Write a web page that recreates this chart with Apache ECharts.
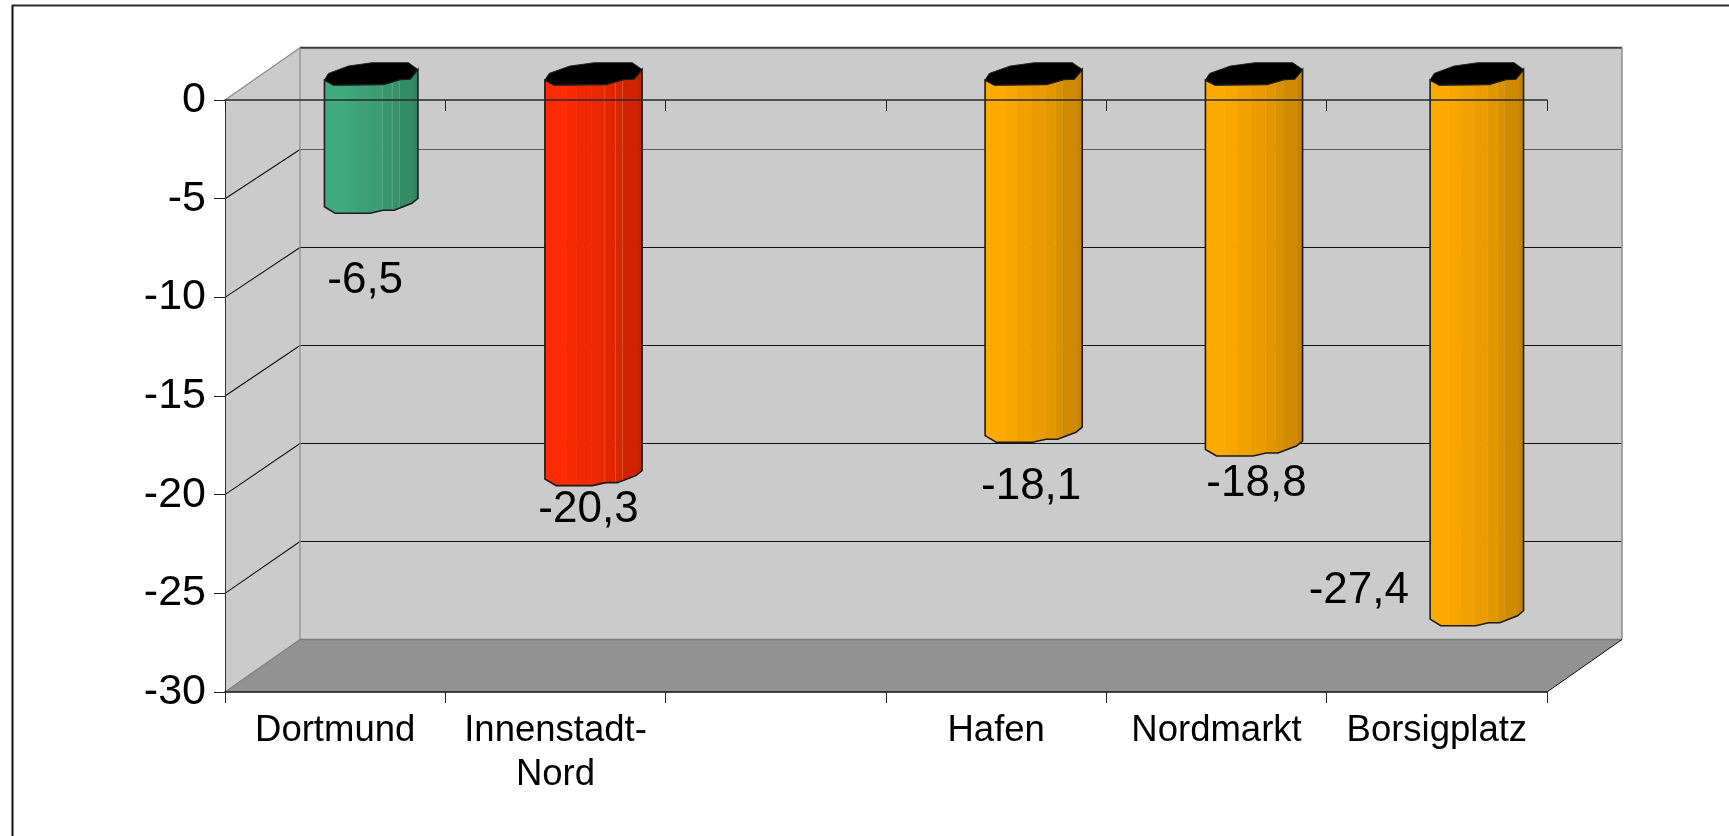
<!DOCTYPE html>
<html><head><meta charset="utf-8">
<style>html,body{margin:0;padding:0;background:#fff}#c{width:1729px;height:836px}</style>
<script src="https://cdn.jsdelivr.net/npm/echarts@6/dist/echarts.min.js"></script>
</head><body><div id="c"></div>
<script>
const categories = ['Dortmund', 'Innenstadt-\nNord', '', 'Hafen', 'Nordmarkt', 'Borsigplatz'];
const values = [-6.5, -20.3, null, -18.1, -18.8, -27.4];
const valueLabels = ['-6,5', '-20,3', '', '-18,1', '-18,8', '-27,4'];
const yTicks = [0, -5, -10, -15, -20, -25, -30];

// --- styling only ---
const barBase = ['#40ab7f', '#ff2b00', null, '#ffaa00', '#ffaa00', '#ffaa00'];
const labelOffset = [[30, 53], [33, 9.5], [0, 0], [35, 29.5], [40, 12.5], [-78, -50]];
const barNudge = [-1.5, 0.5, 0, 0, 0, 2.5];
const barScale = [1, 1.04, 1, 1.04, 1.04, 1];
const DEPTH = 75, DEPTH_Y = -52.5;
const FONT = '"Liberation Sans", Arial, sans-serif';
const stripEdges = [-46.7, -27, -16, -2, 11, 21, 28, 42, 46.7];
const stripShade = [1, 0.975, 0.95, 0.92, 0.885, 0.85, 0.81, 0.77];
const lightEdges = [11, 21, 28];
const capShape = [[-46.7, 6.3], [-42.7, -0.3], [-22.7, -7.7], [0.7, -11], [37.3, -11], [46.7, -4.3], [39, 5.3], [29, 5.7], [12.3, 10.7], [-37.7, 11.3]];
const topFront = [[-46.7, 6.3], [-37.7, 11.3], [12.3, 10.7], [29, 5.7], [39, 5.3], [46.7, -4.3]];
const bottomFront = [[-46.7, 4.7], [-36, 11.3], [-1, 11.3], [11.7, 8.3], [23, 8.3], [40.7, 1.3], [46.7, -3.7]];

function shade(hex, f) {
  const n = parseInt(hex.slice(1), 16);
  const c = [(n >> 16) & 255, (n >> 8) & 255, n & 255].map(v => Math.round(v * f));
  return 'rgb(' + c.join(',') + ')';
}
function profileAt(p, x) {
  for (let i = 0; i < p.length - 1; i++) {
    if (x <= p[i + 1][0]) {
      const t = (x - p[i][0]) / (p[i + 1][0] - p[i][0]);
      return p[i][1] + t * (p[i + 1][1] - p[i][1]);
    }
  }
  return p[p.length - 1][1];
}
function backShift(v) { return -49.2 + v * 0.1067; }

function renderWalls(params, api) {
  const cs = params.coordSys;
  const L = cs.x, R = cs.x + cs.width, T = cs.y, B = cs.y + cs.height;
  const bT = 47.7 - T, bB = DEPTH_Y;
  const kids = [];
  const poly = (pts, fill, stroke, lw) => ({ type: 'polygon', shape: { points: pts },
    style: { fill: fill, stroke: stroke || null, lineWidth: lw || 0 } });
  const line = (x1, y1, x2, y2, c, lw) => ({ type: 'line', shape: { x1, y1, x2, y2 },
    style: { stroke: c, lineWidth: lw || 1 } });
  kids.push(poly([[L + DEPTH, T + bT], [R + DEPTH, T + bT], [R + DEPTH, B + bB], [L + DEPTH, B + bB]], '#cbcbcb'));
  kids.push(poly([[L, T], [L + DEPTH, T + bT], [L + DEPTH, B + bB], [L, B]], '#cbcbcb'));
  kids.push(poly([[L, B], [L + DEPTH, B + bB], [R + DEPTH, B + bB], [R, B]], '#929292'));
  yTicks.slice(1, -1).forEach(v => {
    const y = api.coord([0, v])[1], yb = Math.round(y + backShift(v)) + 0.5;
    const c = v === -5 ? '#5a5a5a' : '#111';
    kids.push(line(L + DEPTH, yb, R + DEPTH, yb, c, 1.2));
    kids.push(line(L, y, L + DEPTH, yb, '#111', 1.1));
  });
  kids.push(line(L + DEPTH, T + bT, R + DEPTH, T + bT, '#3c3c3c', 2));
  kids.push(line(L, T, L + DEPTH, T + bT, '#8a8a8a', 1.2));
  kids.push(line(L + DEPTH, T + bT, L + DEPTH, B + bB, '#8a8a8a', 1.2));
  kids.push(line(R + DEPTH, T + bT, R + DEPTH, B + bB, '#8e8e8e', 1.5));
  kids.push(line(L, B, L + DEPTH, B + bB, '#808080', 1.2));
  kids.push(line(L + DEPTH, B + bB, R + DEPTH, B + bB, '#7a7a7a', 1.5));
  kids.push(line(R, B, R + DEPTH, B + bB, '#111', 1));
  return { type: 'group', children: kids };
}

function renderBar(params, api) {
  const i = api.value(0), v = api.value(1);
  const zero = api.coord([i, 0]), end = api.coord([i, v]);
  const ms = barScale[i];
  const cx = zero[0] + DEPTH / 2 + barNudge[i];
  const y0 = zero[1] + DEPTH_Y / 2, y1 = end[1] + DEPTH_Y / 2;
  const kids = [];
  const breaks = topFront.concat(bottomFront).map(p => p[0]);
  stripEdges.slice(0, -1).forEach((a, k) => {
    const b = stripEdges[k + 1];
    const xs = [a, b].concat(breaks.filter(x => x > a && x < b)).sort((p, q) => p - q);
    const pts = xs.map(x => [cx + x * ms, y0 + profileAt(topFront, x)])
      .concat(xs.slice().reverse().map(x => [cx + x * ms, y1 + profileAt(bottomFront, x)]));
    const fill = shade(barBase[i], stripShade[k]);
    kids.push({ type: 'polygon', shape: { points: pts }, style: { fill: fill, stroke: fill, lineWidth: 0.5 } });
  });
  const lightAlpha = i === 0 || i === 1 ? 0.18 : 0.08;
  lightEdges.forEach(x => {
    kids.push({ type: 'line', shape: { x1: cx + x * ms, y1: y0 + profileAt(topFront, x), x2: cx + x * ms, y2: y1 + profileAt(bottomFront, x) },
      style: { stroke: 'rgba(255,255,255,' + lightAlpha + ')', lineWidth: 1 } });
  });
  const outline = topFront.map(p => [cx + p[0] * ms, y0 + p[1]]).concat(
    bottomFront.slice().reverse().map(p => [cx + p[0] * ms, y1 + p[1]]));
  kids.push({ type: 'polygon', shape: { points: outline }, style: { fill: 'none', stroke: '#1c1c1c', lineWidth: 1.6 } });
  kids.push({ type: 'polygon', shape: { points: capShape.map(p => [cx + p[0] * ms, y0 + p[1]]) },
    style: { fill: '#000', stroke: '#222', lineWidth: 1 } });
  kids.push({ type: 'text', style: { x: zero[0] + labelOffset[i][0], y: end[1] + labelOffset[i][1],
    text: valueLabels[i], fill: '#000', font: '44px ' + FONT, align: 'center', verticalAlign: 'middle' } });
  return { type: 'group', children: kids };
}

const barData = values.map((v, i) => [i, v]).filter(d => d[1] !== null);

const chart = echarts.init(document.getElementById('c'), null, { renderer: 'canvas' });
chart.setOption({
  animation: false,
  backgroundColor: '#fff',
  graphic: [
    { type: 'line', shape: { x1: 12, y1: 5.5, x2: 1729, y2: 5.5 }, style: { stroke: '#2c2c2c', lineWidth: 2 }, z: 20 },
    { type: 'line', shape: { x1: 12.5, y1: 5, x2: 12.5, y2: 836 }, style: { stroke: '#111', lineWidth: 2 }, z: 20 }
  ],
  grid: { left: 225, top: 100, width: 1322, height: 592, containLabel: false },
  xAxis: [
    { type: 'category', data: categories, position: 'bottom', z: 10,
      axisLine: { onZero: false, lineStyle: { color: '#111', width: 1.5 } },
      axisTick: { show: true, alignWithLabel: false, length: 11, lineStyle: { color: '#222', width: 1 } },
      axisLabel: { interval: 0, color: '#000', fontFamily: FONT, fontSize: 36.5, lineHeight: 44, margin: 17, hideOverlap: false },
      splitLine: { show: false } },
    { type: 'category', data: categories, position: 'top', z: 10,
      axisLine: { onZero: false, lineStyle: { color: '#2a2a2a', width: 1.5 } },
      axisTick: { show: true, inside: true, length: 11, lineStyle: { color: '#222', width: 1 } },
      axisLabel: { show: false }, splitLine: { show: false } }
  ],
  yAxis: { type: 'value', min: -30, max: 0, interval: 5, z: 10,
    axisLine: { show: true, onZero: false, lineStyle: { color: '#333', width: 1 } },
    axisTick: { show: true, length: 11, lineStyle: { color: '#222', width: 1 } },
    axisLabel: { color: '#000', fontFamily: FONT, fontSize: 43, margin: 19 },
    splitLine: { show: false } },
  series: [
    { type: 'custom', name: 'walls', z: 1, silent: true, data: [[0, 0]], renderItem: renderWalls },
    { type: 'custom', name: 'Werte', z: 3, data: barData, encode: { x: 0, y: 1 }, renderItem: renderBar }
  ]
});
</script></body></html>
